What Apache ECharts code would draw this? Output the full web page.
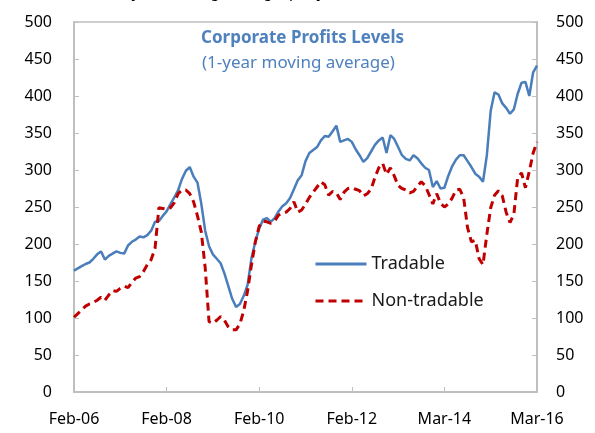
<!DOCTYPE html>
<html>
<head>
<meta charset="utf-8">
<script src="https://cdn.jsdelivr.net/npm/echarts@6/dist/echarts.min.js"></script>
<style>
  html, body { margin: 0; background: #fff; }
  #chart { width: 595px; height: 433px; }
</style>
</head>
<body>
<div id="chart"></div>
<script>
// monthly points, Feb-06 .. Mar-16, one label every 24 points
var tickLabels = ['Feb-06', 'Feb-08', 'Feb-10', 'Feb-12', 'Mar-14', 'Mar-16'];

var tradable = [
  164, 167, 170, 173, 175, 180, 186, 190, 179, 184, 187, 190, 188, 187, 198, 203,
  206, 210, 209, 212, 218, 230, 231, 238, 244, 254, 263, 273, 288, 299, 304, 291,
  283, 254, 218, 197, 186, 180, 174, 160, 143, 126, 115, 119, 130, 145, 181, 203,
  221, 233, 235, 230, 235, 244, 251, 255, 262, 274, 286, 293, 312, 323, 327, 331,
  340, 346, 345, 352, 360, 338, 340, 342, 338, 328, 320, 311, 316, 325, 334, 340,
  344, 323, 347, 342, 331, 320, 315, 313, 320, 316, 309, 303, 300, 277, 285, 275,
  276, 292, 305, 314, 320, 320, 312, 304, 295, 291, 284, 320, 380, 405, 402, 390,
  384, 376, 382, 403, 418, 419, 400, 432, 441
];

var nonTradable = [
  101, 106, 111, 116, 119, 121, 124, 128, 124, 131, 137, 136, 140, 143, 141, 148,
  154, 156, 163, 172, 179, 194, 249, 248, 247, 249, 256, 268, 273, 273, 268, 257,
  238, 216, 168, 95, 93, 97, 102, 97, 88, 84, 84, 92, 110, 137, 172, 203,
  224, 231, 230, 228, 231, 239, 241, 243, 248, 257, 243, 246, 254, 263, 270, 277,
  284, 280, 266, 271, 269, 260, 270, 275, 276, 274, 272, 265, 268, 274, 290, 303,
  309, 294, 303, 292, 279, 275, 273, 269, 271, 278, 284, 279, 267, 254, 268, 255,
  250, 254, 262, 273, 274, 262, 222, 203, 205, 180, 172, 213, 249, 266, 272, 265,
  243, 229, 240, 290, 296, 276, 298, 323, 338
];

var categories = [];
for (var i = 0; i < tradable.length; i++) categories.push(String(i));

var axisGray = '#bfbfbf';
var font = 'Noto Sans';

var chart = echarts.init(document.getElementById('chart'));
chart.setOption({
  animation: false,
  textStyle: { fontFamily: font },
  title: [
    {
      // caption of the page above, cut off by the crop
      text: '(Index, 1-year moving average, per year)',
      left: 62, top: -21,
      textStyle: { fontSize: 16, fontStyle: 'italic', fontWeight: 'normal', color: '#000' }
    },
    {
      text: 'Corporate Profits Levels',
      left: 196, top: 25,
      textStyle: { fontSize: 17, fontWeight: 'bold', color: '#4f81bd' }
    },
    {
      text: '(1-year moving average)',
      left: 197, top: 50,
      textStyle: { fontSize: 17, fontWeight: 'normal', color: '#4f81bd' }
    }
  ],
  legend: {
    orient: 'vertical',
    left: 309, top: 250,
    itemWidth: 51, itemHeight: 10,
    itemGap: 19,
    itemStyle: { opacity: 0 },
    lineStyle: { width: 3 },
    textStyle: { fontSize: 18, color: '#1a1a1a' },
    data: ['Tradable', 'Non-tradable']
  },
  grid: {
    left: 74, right: 58, top: 22, bottom: 41,
    show: true, borderColor: axisGray, borderWidth: 1.5
  },
  xAxis: {
    type: 'category',
    data: categories,
    boundaryGap: false,
    axisLine: { lineStyle: { color: axisGray, width: 2 } },
    axisTick: { inside: true, interval: 23, length: 5, lineStyle: { color: axisGray } },
    axisLabel: {
      interval: 23, margin: 19, fontSize: 16, color: '#000',
      formatter: function (v, idx) { return tickLabels[idx / 24]; }
    }
  },
  yAxis: [
    {
      type: 'value', min: 0, max: 500, interval: 50, position: 'left',
      axisLine: { show: true, lineStyle: { color: axisGray, width: 2 } },
      axisTick: { show: true, inside: true, length: 5, lineStyle: { color: axisGray } },
      axisLabel: { fontSize: 16, color: '#000', margin: 22 },
      splitLine: { show: false }
    },
    {
      type: 'value', min: 0, max: 500, interval: 50, position: 'right',
      axisLine: { show: true, lineStyle: { color: axisGray, width: 2 } },
      axisTick: { show: true, inside: true, length: 5, lineStyle: { color: axisGray } },
      axisLabel: { fontSize: 16, color: '#000', margin: 19 },
      splitLine: { show: false }
    }
  ],
  series: [
    {
      name: 'Tradable',
      type: 'line',
      data: tradable,
      symbol: 'none',
      itemStyle: { color: '#4a7ebb' },
      lineStyle: { color: '#4a7ebb', width: 2.5 }
    },
    {
      name: 'Non-tradable',
      type: 'line',
      data: nonTradable,
      symbol: 'none',
      itemStyle: { color: '#c00000' },
      lineStyle: { color: '#c00000', width: 3, type: [8, 5] }
    }
  ]
});
</script>
</body>
</html>
